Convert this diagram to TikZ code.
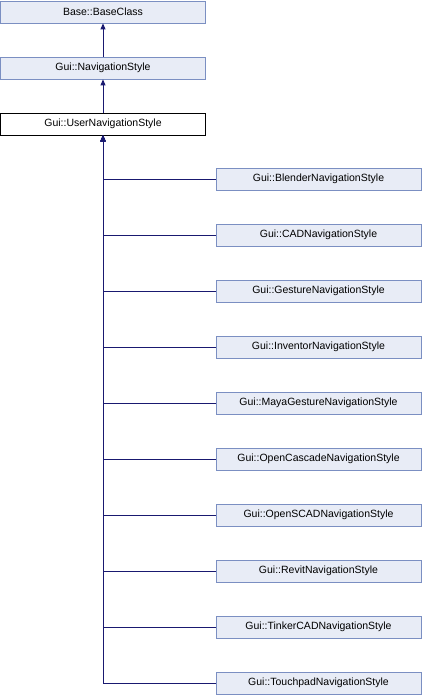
\documentclass[tikz,border=0pt]{standalone}
\usepackage{fontspec}
\setmainfont{Liberation Sans}
\usetikzlibrary{arrows.meta}
\definecolor{boxfill}{HTML}{E8ECF6}
\definecolor{boxline}{HTML}{7B8FC2}
\definecolor{edge}{HTML}{191970}
\tikzset{
  cls/.style={draw=boxline, fill=boxfill, line width=0.8pt, minimum width=205pt, minimum height=22pt, inner sep=0pt, font=\fontsize{10.5}{12}\selectfont},
  cur/.style={cls, draw=black, fill=white},
  inh/.style={draw=edge, line width=0.9pt, -{Triangle[length=6pt,width=5pt]}},
}
\begin{document}
\begin{tikzpicture}[x=1pt,y=-1pt]
\useasboundingbox (0,0) rectangle (422,696);
\node[cls] (base) at (103,12) {Base::BaseClass};
\node[cls] (nav) at (103,68) {Gui::NavigationStyle};
\node[cur] (user) at (103,124) {Gui::UserNavigationStyle};
\draw[inh] (nav.north) -- (base.south);
\draw[inh] (user.north) -- (nav.south);
\foreach \n/\t [count=\i from 0] in {
  c0/Gui::BlenderNavigationStyle,
  c1/Gui::CADNavigationStyle,
  c2/Gui::GestureNavigationStyle,
  c3/Gui::InventorNavigationStyle,
  c4/Gui::MayaGestureNavigationStyle,
  c5/Gui::OpenCascadeNavigationStyle,
  c6/Gui::OpenSCADNavigationStyle,
  c7/Gui::RevitNavigationStyle,
  c8/Gui::TinkerCADNavigationStyle,
  c9/Gui::TouchpadNavigationStyle}{
  \node[cls] (\n) at (318.5,{179+56*\i}) {\t};
  \draw[inh] (\n.west) -| (user.south);
}
\end{tikzpicture}
\end{document}
